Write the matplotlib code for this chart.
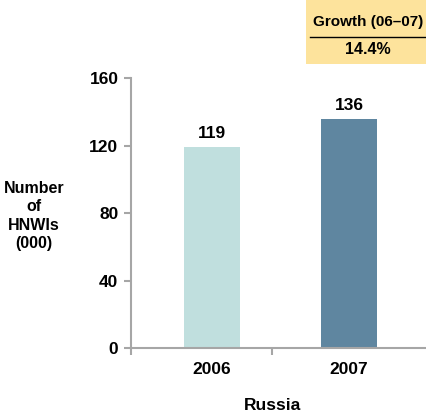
import matplotlib.pyplot as plt
from matplotlib.patches import Rectangle
from matplotlib.lines import Line2D

years = ["2006", "2007"]
hnwi = [119, 136]
bar_colors = ["#c0dfde", "#5f86a0"]
y_ticks = [0, 40, 80, 120, 160]
group_label = "Russia"
growth_title = "Growth (06\u201307)"
growth_value = "14.4%"

plt.rcParams["font.family"] = ["Liberation Sans", "DejaVu Sans"]
plt.rcParams["font.weight"] = "bold"

fig = plt.figure(figsize=(4.27, 4.19), dpi=100)
W, H = 427, 419
ax = fig.add_axes([131 / W, 1 - 348 / H, (427 - 131) / W, (348 - 78) / H])

pos = [0.5, 1.5]
ax.bar(pos, hnwi, width=0.41, color=bar_colors)
for x, v in zip(pos, hnwi):
    ax.text(x, v + 3.5, str(v), ha="center", va="bottom", fontsize=12.5, fontweight="bold")

ax.set_xlim(-0.09, 2.07)
ax.set_ylim(0, 160)
ax.set_yticks(y_ticks)
ax.set_yticklabels([str(t) for t in y_ticks], fontsize=12.5, fontweight="bold")
ax.set_xticks([-0.09, 0.94])
ax.set_xticklabels(["", ""])
for x, lab in zip(pos, years):
    ax.text(x, -13, lab, ha="center", va="center", fontsize=12.5, fontweight="bold")
ax.text(0.94, -34, group_label, ha="center", va="center", fontsize=12.5, fontweight="bold")

for s in ["top", "right"]:
    ax.spines[s].set_visible(False)
for s in ["left", "bottom"]:
    ax.spines[s].set_color("#a6a6a6")
    ax.spines[s].set_linewidth(1.5)
ax.tick_params(axis="both", colors="#a6a6a6", width=1.5, length=5, labelcolor="black")
ax.tick_params(axis="y", pad=4)

fig.text(34 / W, 1 - 216 / H, "Number\nof\nHNWIs\n(000)", ha="center", va="center",
         fontsize=11.5, fontweight="bold", linespacing=1.3)

# growth box
fig.patches.append(Rectangle((306 / W, 1 - 64 / H), (W - 306) / W, 64 / H,
                             transform=fig.transFigure, facecolor="#fde39c", edgecolor="none"))
fig.text(368 / W, 1 - 22 / H, growth_title, ha="center", va="center", fontsize=11, fontweight="bold")
fig.lines.append(Line2D([310 / W, 1], [1 - 37 / H, 1 - 37 / H], transform=fig.transFigure,
                        color="black", linewidth=1))
fig.text(368 / W, 1 - 50 / H, growth_value, ha="center", va="center", fontsize=11.5, fontweight="bold")

fig.savefig("out.png", dpi=100)
